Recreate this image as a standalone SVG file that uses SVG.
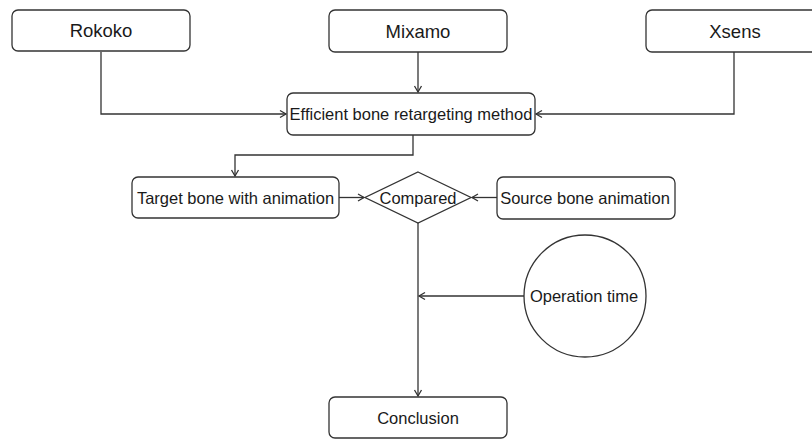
<svg xmlns="http://www.w3.org/2000/svg" width="812" height="440" viewBox="0 0 812 440">
<style>
.box{fill:#fff;stroke:#333;stroke-width:1.3}
.t{font-family:"Liberation Sans",Arial,sans-serif;font-size:16.5px;fill:#1a1a1a;text-anchor:middle;dominant-baseline:central}
.tl{font-size:18.5px}
.c{fill:none;stroke:#333;stroke-width:1.3}
</style>
<defs>
<marker id="a" markerWidth="10" markerHeight="10" refX="8" refY="5" orient="auto" markerUnits="userSpaceOnUse">
<path d="M2,1.5 L8,5 L2,8.5" fill="none" stroke="#333" stroke-width="1.3"/>
</marker>
</defs>
<rect width="812" height="440" fill="#fff"/>
<g id="connectors">
<path class="c" d="M101,52 V114 H286" marker-end="url(#a)"/>
<path class="c" d="M418,52 V92" marker-end="url(#a)"/>
<path class="c" d="M734,52 V114 H536" marker-end="url(#a)"/>
<path class="c" d="M413,135 V155 H235 V176" marker-end="url(#a)"/>
<path class="c" d="M339,197.5 H364" marker-end="url(#a)"/>
<path class="c" d="M497,197.5 H472" marker-end="url(#a)"/>
<path class="c" d="M418,222 V396" marker-end="url(#a)"/>
<path class="c" d="M524,296 H419" marker-end="url(#a)"/>
</g>
<g id="rokoko"><rect class="box" x="12" y="10" width="178" height="41" rx="6"/><text class="t tl" x="101" y="30.5">Rokoko</text></g>
<g id="mixamo"><rect class="box" x="329" y="10" width="178" height="42" rx="6"/><text class="t tl" x="418" y="31">Mixamo</text></g>
<g id="xsens"><rect class="box" x="646" y="10" width="178" height="42" rx="6"/><text class="t tl" x="735" y="31">Xsens</text></g>
<g id="method"><rect class="box" x="287" y="93" width="248" height="42" rx="6"/><text class="t" x="411" y="114">Efficient bone retargeting method</text></g>
<g id="target"><rect class="box" x="132" y="177" width="207" height="41" rx="6"/><text class="t" x="235.5" y="197.5">Target bone with animation</text></g>
<g id="compared"><path class="box" d="M418,172 L471,197.5 L418,223 L365,197.5 Z"/><text class="t" x="418" y="197.5">Compared</text></g>
<g id="source"><rect class="box" x="497" y="177" width="178" height="42" rx="6"/><text class="t" x="585" y="198">Source bone animation</text></g>
<g id="optime"><circle class="box" cx="585" cy="296" r="61"/><text class="t" x="584" y="296">Operation time</text></g>
<g id="conclusion"><rect class="box" x="329" y="397" width="178" height="41" rx="6"/><text class="t" x="418" y="417.5">Conclusion</text></g>
</svg>
